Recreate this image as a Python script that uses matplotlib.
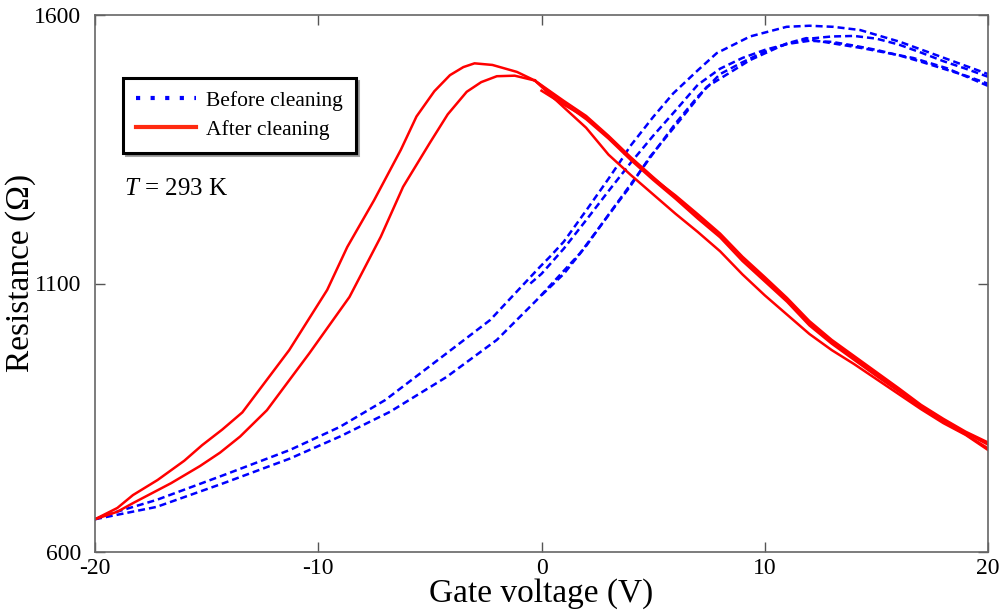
import matplotlib
matplotlib.use("Agg")
import matplotlib.pyplot as plt
from matplotlib.lines import Line2D

plt.rcParams["font.family"] = ["Liberation Serif", "DejaVu Serif"]
plt.rcParams["mathtext.fontset"] = "custom"
plt.rcParams["mathtext.rm"] = "Liberation Serif"
plt.rcParams["mathtext.it"] = "Liberation Serif:italic"

# ---- After cleaning (red): two branches on the hole side, four on the electron side
red_left_outer_v = [-20, -19, -18.3, -17.2, -16, -15.2, -14.3, -13.4, -11.3, -9.6, -8.7,
                    -7.5, -6.3, -5.6, -4.8, -4.1, -3.5, -3.0, -2.2, -1.1, -0.3]
red_left_outer_r = [661, 682, 706, 734, 770, 799, 828, 860, 976, 1088, 1168,
                    1255, 1349, 1411, 1458, 1488, 1503, 1510, 1507, 1494, 1478]

red_left_inner_v = [-20, -19, -18.3, -16.6, -15.3, -14.4, -13.5, -12.3, -10.4, -8.6,
                    -7.2, -6.2, -5.0, -4.2, -3.35, -2.7, -2.0, -1.2, -0.3]
red_left_inner_r = [661, 675, 691, 728, 760, 785, 815, 864, 970, 1075,
                    1187, 1280, 1362, 1415, 1457, 1475, 1486, 1487, 1478]

red_right_v = [-0.3, 1, 2, 3, 4, 5, 6, 7, 8, 9, 10, 11, 12, 13, 14, 15, 16, 17, 18, 19, 20]
red_right_1 = [1478, 1440, 1412, 1375, 1335, 1298, 1262, 1226, 1190, 1147, 1108, 1070, 1026,
               992, 962, 932, 902, 872, 846, 822, 800]
red_right_2 = [1478, 1436, 1406, 1370, 1330, 1293, 1258, 1221, 1186, 1142, 1104, 1066, 1022,
               988, 958, 928, 899, 869, 843, 819, 793]
red_right_3 = [1478, 1428, 1390, 1340, 1302, 1266, 1230, 1196, 1160, 1117, 1078, 1042, 1006,
               976, 950, 922, 894, 866, 840, 818, 790]
red_stub_v = [0, 1, 2, 3, 4, 5, 6, 7, 8, 9, 10, 11, 12, 13, 14, 15, 16, 17, 18, 19, 20]
red_stub_r = [1459, 1433, 1409, 1373, 1333, 1296, 1264, 1229, 1193, 1150, 1112, 1073, 1030,
              995, 965, 935, 905, 874, 848, 824, 804]

# ---- Before cleaning (blue)
blue_upper_v = [-20, -19.5, -17.24, -14.25, -11.27, -9.03, -7.0, -4.25, -2.3, -0.07, 0.38,
                1.0, 2.02, 3.0, 3.67, 3.96, 5.0, 5.9, 7.0, 7.85, 9.34, 10.98, 12.0, 13.07,
                14.27, 16.06, 18.3, 20]
blue_upper_r = [661, 669, 697, 743, 790, 833, 883, 970, 1032, 1131, 1150,
                1178, 1237, 1295, 1336, 1355, 1410, 1454, 1497, 1529, 1560, 1578, 1580, 1578,
                1572, 1550, 1516, 1490]

blue_lower_v = [-20, -17.24, -14.25, -11.27, -9.03, -6.79, -4.25, -2.0, -0.22, 1.72, 3.5,
                3.96, 4.86, 6.2, 7.4, 9.34, 10.98, 11.87, 12.18, 14.4, 16.65, 18.15, 20]
blue_lower_r = [661, 684, 728, 774, 815, 861, 926, 995, 1069, 1156, 1255,
                1280, 1336, 1404, 1466, 1516, 1547, 1557, 1553, 1538, 1520, 1501, 1468]

blue_second_v = [-0.5, 0, 1, 2, 3, 4, 5, 6, 7, 8, 9, 10, 11, 12, 13, 14, 15, 16, 17, 18, 19, 20]
blue_second_r = [1100, 1118, 1165, 1218, 1272, 1325, 1375, 1422, 1470, 1500, 1520, 1535, 1546,
                 1556, 1560, 1561, 1556, 1545, 1530, 1514, 1500, 1485]

blue_fourth_v = [0, 1, 2, 3, 4, 5, 6, 7, 8, 9, 10, 11, 12, 13, 14, 15, 16, 17, 18, 19, 20]
blue_fourth_r = [1078, 1118, 1170, 1228, 1285, 1342, 1398, 1448, 1490, 1512, 1532, 1546, 1552,
                 1550, 1543, 1535, 1525, 1513, 1500, 1487, 1472]

x_ticks = [-20, -10, 0, 10, 20]
y_ticks = [600, 1100, 1600]
legend_labels = ["Before cleaning", "After cleaning"]

RED = "#ff0000"
BLUE = "#0000ff"

fig = plt.figure(figsize=(10.05, 6.15), dpi=100)
ax = fig.add_axes([95 / 1005, 63 / 615, 893 / 1005, 537 / 615])

dash = (0, (2.8, 1.6))
for v, r in [(blue_upper_v, blue_upper_r), (blue_lower_v, blue_lower_r),
             (blue_second_v, blue_second_r), (blue_fourth_v, blue_fourth_r)]:
    ax.plot(v, r, color=BLUE, lw=1.8, linestyle=dash)

for v, r in [(red_left_outer_v, red_left_outer_r), (red_left_inner_v, red_left_inner_r),
             (red_right_v, red_right_1), (red_right_v, red_right_2),
             (red_right_v, red_right_3), (red_stub_v, red_stub_r)]:
    ax.plot(v, r, color=RED, lw=1.8)

ax.set_xlim(x_ticks[0], x_ticks[-1])
ax.set_ylim(y_ticks[0], y_ticks[-1])
ax.set_xticks(x_ticks)
ax.set_yticks(y_ticks)
ax.set_xticklabels([str(t) for t in x_ticks])
ax.set_yticklabels([str(t) for t in y_ticks])
ax.tick_params(direction="in", length=7, width=1, color="#555555",
               top=True, right=True, labelsize=17, labelcolor="black")
ax.tick_params(axis="y", pad=10)
ax.tick_params(axis="x", pad=4)
for s in ax.spines.values():
    s.set_color("#666666")
    s.set_linewidth(1.2)

ax.set_xlabel("Gate voltage (V)", fontsize=24)
ax.set_ylabel("Resistance (\u03a9)", fontsize=24)
ax.xaxis.set_label_coords(0.5, -0.048)
ax.yaxis.set_label_coords(-0.066, 0.52)

handles = [Line2D([], [], color=BLUE, lw=3, linestyle=(0, (1, 2.5))),
           Line2D([], [], color="#ff2a10", lw=3)]
leg = ax.legend(handles, legend_labels, loc="upper left",
                bbox_to_anchor=(123 / 1005, 1 - 78 / 615), bbox_transform=fig.transFigure,
                borderaxespad=0, fontsize=15.5, frameon=True, fancybox=False, shadow=True,
                handlelength=2.8, handletextpad=0.45, labelspacing=0.4, borderpad=0.6)
leg.get_frame().set_edgecolor("black")
leg.get_frame().set_linewidth(2.2)

ax.text(124 / 1005, 1 - 189 / 615, r"$T$ = 293 K", transform=fig.transFigure,
        fontsize=18, va="center", ha="left")

fig.savefig("out.png", dpi=100)
